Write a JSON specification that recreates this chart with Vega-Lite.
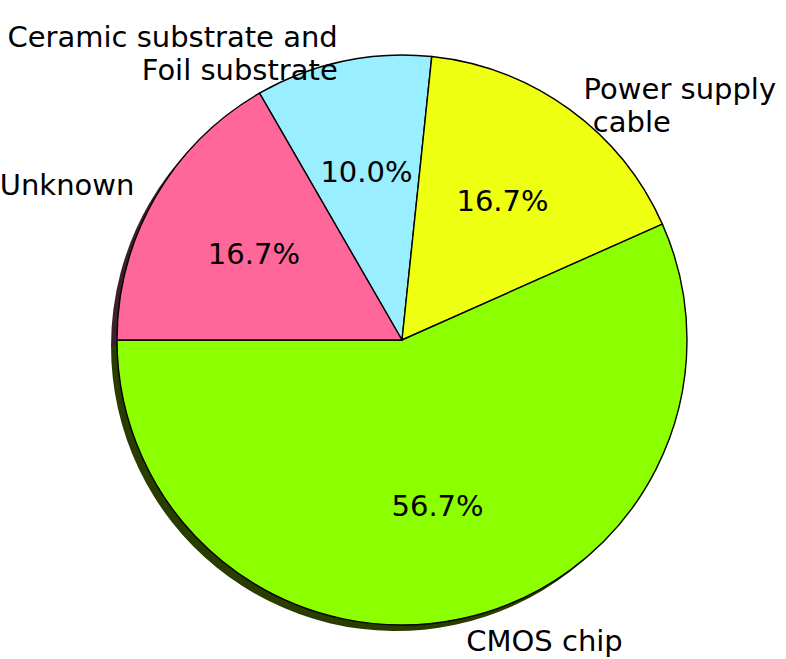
{
  "$schema": "https://vega.github.io/schema/vega-lite/v6.json",
  "autosize": "none",
  "width": 768,
  "height": 638,
  "padding": {"left": 18, "top": 21, "right": 0, "bottom": 0},
  "background": "white",
  "config": {"view": {"stroke": null}, "font": "DejaVu Sans"},
  "data": {
    "values": [
      {"label": "Ceramic substrate and\nFoil substrate", "key": "Ceramic", "value": 10.0, "pct": "10.0%", "order": 1},
      {"label": "Power supply\n\u200b\u00a0cable", "key": "Power", "value": 16.67, "pct": "16.7%", "order": 2},
      {"label": "CMOS chip", "key": "CMOS", "value": 56.67, "pct": "56.7%", "order": 3},
      {"label": "Unknown", "key": "Unknown", "value": 16.67, "pct": "16.7%", "order": 4}
    ]
  },
  "encoding": {
    "theta": {"field": "value", "type": "quantitative", "stack": true, "scale": {"range": [-0.5236, 5.7596]}},
    "order": {"field": "order", "type": "quantitative", "sort": "ascending"}
  },
  "layer": [
    {
      "mark": {"type": "arc", "outerRadius": 285, "xOffset": -6, "yOffset": 6},
      "encoding": {
        "color": {"field": "key", "type": "nominal", "legend": null,
          "scale": {"domain": ["Ceramic", "Power", "CMOS", "Unknown"], "range": ["#2e4a50", "#474d00", "#2a3d00", "#3d1e2c"]}}
      }
    },
    {
      "mark": {"type": "arc", "outerRadius": 285, "stroke": "black", "strokeWidth": 1.4},
      "encoding": {
        "color": {"field": "key", "type": "nominal", "legend": null,
          "scale": {"domain": ["Ceramic", "Power", "CMOS", "Unknown"], "range": ["#99eeff", "#eeff11", "#8cff00", "#ff6699"]}}
      }
    },
    {
      "mark": {"type": "text", "radius": 171, "fontSize": 29, "font": "DejaVu Sans", "color": "black", "align": "center", "baseline": "middle"},
      "encoding": {"text": {"field": "pct"}}
    },
    {
      "mark": {"type": "text", "radius": 309, "fontSize": 29, "font": "DejaVu Sans", "color": "black",
        "align": {"expr": "(datum.key == 'Ceramic' || datum.key == 'Unknown') ? 'right' : 'left'"},
        "baseline": "middle", "lineBreak": "\n", "lineHeight": 33},
      "encoding": {"text": {"field": "label"}}
    }
  ],
  "resolve": {"scale": {"color": "independent"}}
}
